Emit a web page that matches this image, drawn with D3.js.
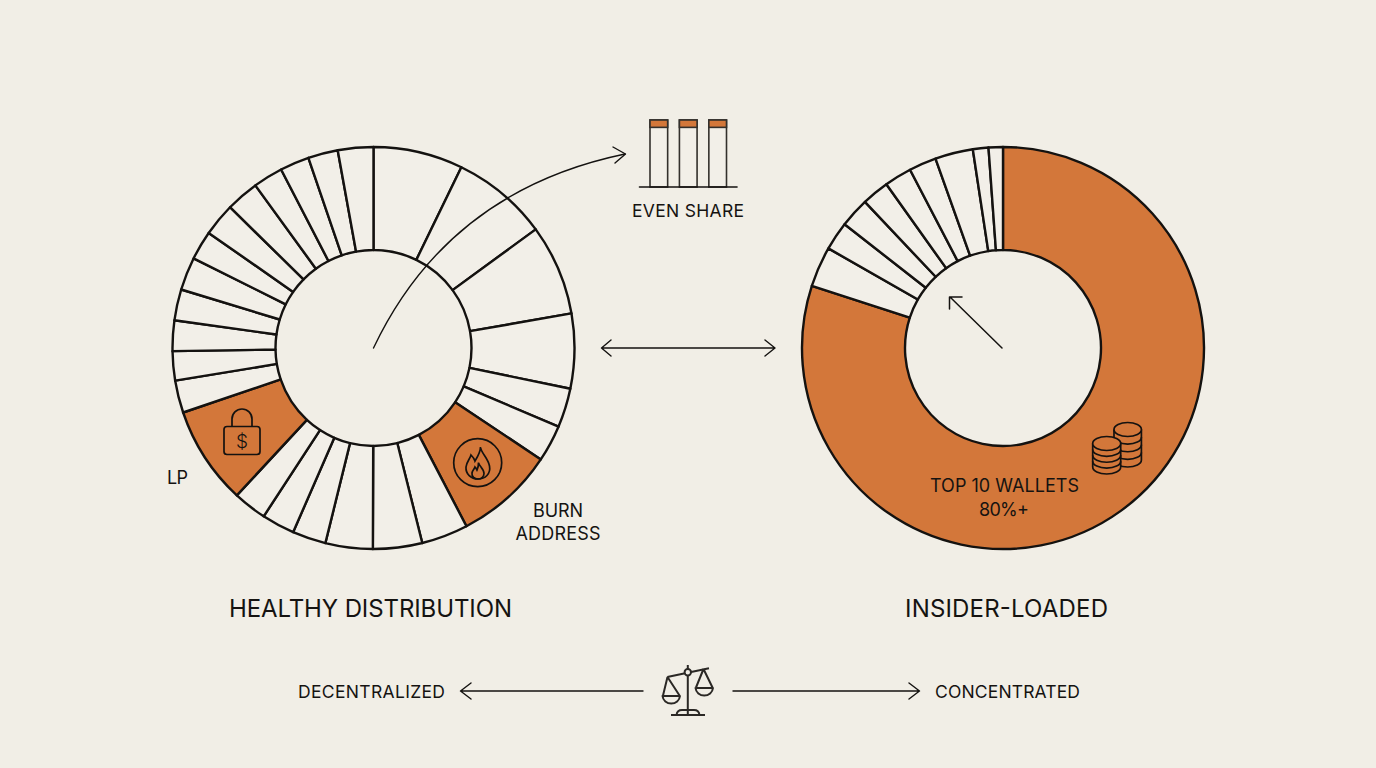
<!DOCTYPE html>
<html>
<head>
<meta charset="utf-8">
<script src="https://cdn.jsdelivr.net/npm/d3@7"></script>
<style>
  html, body { margin: 0; padding: 0; background: #f1eee6; }
  svg { display: block; }
  text { font-family: Inter, "Liberation Sans", sans-serif; fill: #151311; text-anchor: middle; }
</style>
</head>
<body>
<svg id="chart" width="1376" height="768"></svg>
<script>
// Slice shares in percent, clockwise from twelve o'clock.
const healthyShares = [7.2, 7.75, 7.3, 6, 3.15, 2.95, 8, 3.75, 3.95, 3.8, 2.7, 2.65, 2.7, 7.9, 2.6, 2.35, 2.45, 2.5, 2.65, 2.35, 2.65, 2.65, 2.4, 2.35, 2.4, 2.85];
const healthyAccent = [6, 13];           // burn address, LP
const insiderShares = [80, 3.25, 2.3, 2.4, 2.2, 2.2, 2.2, 3.05, 1.25, 1.15];
const insiderAccent = [0];               // top 10 wallets

const evenColumns = ["A", "B", "C"];
const evenTotals = [100, 100, 100];
const evenCaps = [11, 11, 11];

const INK = "#141210", ORANGE = "#d3773a", PAPER = "#f1eee6", SLICE = "#f2efe8";
const svg = d3.select("#chart");
svg.append("rect").attr("width", 1376).attr("height", 768).attr("fill", PAPER);

// Ring of slices, with the accented indexes filled in orange.
function donut(cx, cy, shares, accent) {
  const pie = d3.pie().sort(null).value(d => d);
  const arc = d3.arc().innerRadius(98).outerRadius(201);
  const g = svg.append("g").attr("transform", `translate(${cx},${cy})`);
  g.selectAll("path").data(pie(shares)).join("path")
    .attr("d", arc)
    .attr("fill", (d, i) => accent.includes(i) ? ORANGE : SLICE)
    .attr("stroke", INK).attr("stroke-width", 2.4).attr("stroke-linejoin", "round");
}
donut(373.5, 348, healthyShares, healthyAccent);
donut(1003, 348, insiderShares, insiderAccent);

// Thin line with an open chevron at its end.
function line(d, w = 1.4) {
  return svg.append("path").attr("d", d).attr("fill", "none")
    .attr("stroke", INK).attr("stroke-width", w)
    .attr("stroke-linecap", "round").attr("stroke-linejoin", "round");
}
line("M373.5 348C420 250 500 180 625 154");
line("M613 147L625.5 154L615 163");
line("M602 348H775M611 340L601.5 348L611 356M765 340L775 348L765 356");
line("M1002 348L950 297M949.5 309V297H962", 1.5);
line("M643 691H461M471 683L460.5 691L471 699");
line("M733 691H919M909 683L919.5 691L909 699");

// Three even columns with orange caps.
const xBand = d3.scaleBand().domain(evenColumns).range([650, 726.5]).paddingInner(0.4);
const yShare = d3.scaleLinear().domain([0, 100]).range([187, 120]);
const cols = svg.append("g");
cols.selectAll("rect.col").data(evenColumns).join("rect").attr("class", "col")
  .attr("x", d => xBand(d)).attr("width", xBand.bandwidth())
  .attr("y", (d, i) => yShare(evenTotals[i]))
  .attr("height", (d, i) => yShare(0) - yShare(evenTotals[i]))
  .attr("fill", SLICE).attr("stroke", "#33302c").attr("stroke-width", 1.6);
cols.selectAll("rect.cap").data(evenColumns).join("rect").attr("class", "cap")
  .attr("x", d => xBand(d)).attr("width", xBand.bandwidth())
  .attr("y", (d, i) => yShare(evenTotals[i]))
  .attr("height", (d, i) => yShare(0) - yShare(evenCaps[i]))
  .attr("fill", ORANGE).attr("stroke", "#33302c").attr("stroke-width", 1.6);
line("M639.5 187H737", 1.6);

// Padlock icon
const lock = svg.append("g");
lock.append("rect").attr("x", 224).attr("y", 426.5).attr("width", 36).attr("height", 28).attr("rx", 3)
  .attr("fill", "none").attr("stroke", INK).attr("stroke-width", 1.7);
lock.append("path").attr("d", "M232 426.5V419A10 10 0 0 1 252 419V426.5")
  .attr("fill", "none").attr("stroke", INK).attr("stroke-width", 1.7);
lock.append("text").attr("x", 242).attr("y", 448).attr("font-size", 19).attr("font-weight", 300).text("$");

// Flame icon
const flame = svg.append("g").attr("fill", "none").attr("stroke", INK).attr("stroke-width", 1.7);
flame.append("circle").attr("cx", 477.7).attr("cy", 462.7).attr("r", 24);
flame.append("path").attr("d", "M480.5 447C481 453 488 458 489.5 466C491 474 485 479 478 479C471 479 465.5 474 466 467C466.5 462 470 459 471 455C473 457 474.5 459 475 461C477.5 457 480.5 452 480.5 447Z");
flame.append("path").attr("d", "M478.5 462.5C479 466 484 469 484 473.5C484 477 481 479 478 479C474.5 479 471.5 476.5 472 473C472.5 470 474.5 469 475 467C476 468 476.5 469 477 470C478 468 478.5 465 478.5 462.5Z");

// Coin stacks icon
function coinStack(cx, top, bottom, rx, layers) {
  const g = svg.append("g").attr("fill", "none").attr("stroke", INK).attr("stroke-width", 1.7);
  const ry = 7;
  g.append("path").attr("d", `M${cx - rx} ${top}V${bottom}A${rx} ${ry} 0 0 0 ${cx + rx} ${bottom}V${top}`).attr("fill", ORANGE);
  g.append("ellipse").attr("cx", cx).attr("cy", top).attr("rx", rx).attr("ry", ry).attr("fill", ORANGE);
  d3.range(1, layers).forEach(i => {
    const y = top + (bottom - top) * i / layers;
    g.append("path").attr("d", `M${cx - rx} ${y}A${rx} ${ry} 0 0 0 ${cx + rx} ${y}`);
  });
}
coinStack(1127.7, 429.5, 460, 13.7, 4);
coinStack(1106.7, 443.5, 467, 14, 4);

// Balance scale icon
const scale = svg.append("g").attr("fill", "none").attr("stroke", "#2b2825").attr("stroke-width", 2).attr("stroke-linejoin", "round");
scale.append("path").attr("d", "M687.8 665V714M667.3 677L709 668.3");
scale.append("circle").attr("cx", 687.8).attr("cy", 672.3).attr("r", 3.2).attr("fill", PAPER);
scale.append("path").attr("d", "M671 715H705M676.5 715C677 711 679 710 682 710H694C697 710 699 711 699.5 715");
scale.append("path").attr("d", "M667.5 677L663 695.5M667.5 677L679.5 695.5M662.5 696H680A8.8 8.5 0 0 1 662.5 696Z");
scale.append("path").attr("d", "M703.5 669L696 687.5M703.5 669L712.5 687.5M695.5 688H713A8.8 8.5 0 0 1 695.5 688Z");

// Labels, each fitted to its measured width
const labels = [
  ["LP", 177.5, 484, 18, 21],
  ["BURN", 558, 517, 18, 50],
  ["ADDRESS", 558, 540, 18, 85],
  ["EVEN SHARE", 688, 216.5, 17.5, 112],
  ["TOP 10 WALLETS", 1004.5, 492, 18, 149],
  ["80%+", 1004, 515.5, 18, 50],
  ["HEALTHY DISTRIBUTION", 370.5, 616.5, 24, 283],
  ["INSIDER-LOADED", 1006.5, 616.5, 24, 203],
  ["DECENTRALIZED", 371.5, 698, 17.5, 147],
  ["CONCENTRATED", 1007.5, 698, 17.5, 145]
];
svg.append("g").selectAll("text.label").data(labels).join("text").attr("class", "label")
  .attr("x", d => d[1]).attr("y", d => d[2]).attr("font-size", d => d[3])
  .attr("textLength", d => d[4]).attr("lengthAdjust", "spacing")
  .text(d => d[0]);
</script>
</body>
</html>
